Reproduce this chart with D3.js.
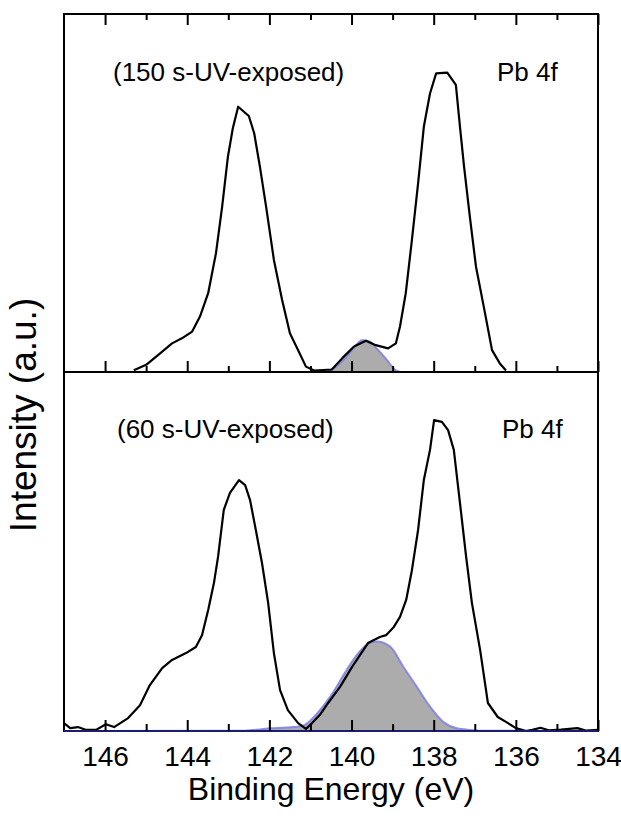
<!DOCTYPE html>
<html>
<head>
<meta charset="utf-8">
<script src="https://cdn.jsdelivr.net/npm/d3@7/dist/d3.min.js"></script>
<style>
  html, body { margin: 0; padding: 0; background: #fff; }
  svg { display: block; }
  text { font-family: Arial, "Liberation Sans", sans-serif; fill: #000; }
</style>
</head>
<body>
<svg id="chart" width="621" height="818"></svg>
<script>
// Pb 4f XPS spectra, two UV exposure times
const majorTicks = [146, 144, 142, 140, 138, 136, 134];
const minorTicks = [145, 143, 141, 139, 137, 135];

// 150 s exposure: measured envelope
const topEnergy = [145.30, 145.00, 144.66, 144.37, 144.13, 143.88, 143.69, 143.49, 143.30, 143.15,
  143.01, 142.89, 142.76, 142.50, 142.37, 142.23, 142.08, 141.89, 141.69, 141.50,
  141.30, 141.11, 140.91, 140.48, 140.23, 139.94, 139.65, 139.41, 139.11, 138.92,
  138.82, 138.68, 138.53, 138.38, 138.24, 138.09, 137.94, 137.67, 137.46, 137.36,
  137.26, 137.12, 136.97, 136.78, 136.58, 136.39, 136.24];
const topIntensity = [0.5, 2.0, 5.2, 8.0, 9.4, 11.3, 15.5, 22.0, 33.2, 46.2,
  60.1, 68.1, 74.1, 71.5, 66.7, 57.3, 46.2, 31.3, 20.1, 10.8,
  6.1, 1.5, 0.4, 0.7, 3.8, 7.1, 8.7, 7.5, 6.6, 8.0,
  12.7, 22.0, 36.9, 52.7, 68.5, 77.8, 83.4, 83.6, 80.2, 68.5,
  57.3, 43.4, 29.4, 18.2, 6.1, 2.4, 0.4];

// 150 s exposure: fitted component
const topFitEnergy = [140.57, 140.32, 140.12, 139.92, 139.75, 139.55, 139.39, 139.14, 138.94, 138.82];
const topFitIntensity = [0.1, 2.0, 4.3, 7.1, 8.9, 8.5, 6.6, 3.4, 0.6, 0.1];

// 60 s exposure: measured envelope
const bottomEnergy = [147.00, 146.85, 146.66, 146.46, 146.22, 145.98, 145.78, 145.44, 145.15, 144.91,
  144.61, 144.37, 144.03, 143.79, 143.64, 143.49, 143.35, 143.25, 143.11, 142.96,
  142.74, 142.59, 142.47, 142.33, 142.18, 142.03, 141.89, 141.74, 141.55, 141.30,
  141.11, 140.96, 140.77, 140.57, 140.28, 139.99, 139.60, 139.31, 139.16, 138.97,
  138.82, 138.67, 138.53, 138.38, 138.24, 138.09, 137.99, 137.80, 137.65, 137.51,
  137.36, 137.21, 137.07, 136.87, 136.68, 136.44, 136.19, 136.00, 135.75, 135.60,
  135.40, 135.20, 134.90, 134.50, 134.30, 134.00];
const bottomIntensity = [2.2, 0.8, 1.1, 0.3, 0.3, 1.9, 1.1, 3.6, 7.2, 12.8,
  17.5, 19.8, 21.7, 23.4, 26.7, 33.7, 41.2, 48.5, 61.6, 66.3,
  69.9, 68.5, 64.3, 56.0, 46.8, 35.7, 21.7, 11.4, 5.8, 2.2,
  0.6, 2.2, 4.5, 7.8, 12.3, 17.8, 24.5, 26.2, 26.7, 29.0,
  31.8, 36.5, 44.8, 56.0, 69.9, 78.3, 86.6, 86.1, 83.8, 78.3,
  63.5, 48.5, 35.7, 22.6, 7.8, 3.9, 2.2, 0.8, 0.0, 0.3,
  0.9, 0.2, 0.4, 0.8, 0.1, 0.3];

// 60 s exposure: fitted component
const bottomFitEnergy = [147.00, 142.60, 141.99, 141.58, 141.21, 140.77, 140.44, 140.12, 139.84, 139.63,
  139.39, 139.06, 138.74, 138.41, 138.09, 137.77, 137.44, 137.12, 136.60, 134.00];
const bottomFitIntensity = [0.0, 0.1, 0.75, 1.0, 1.4, 5.8, 10.9, 17.0, 21.6, 24.0,
  24.9, 23.5, 17.9, 12.3, 6.8, 2.6, 0.75, 0.3, 0.05, 0.0];

const panelLabels = ["(150 s-UV-exposed)", "(60 s-UV-exposed)"];
const coreLevel = "Pb 4f";
const xTitle = "Binding Energy (eV)";
const yTitle = "Intensity (a.u.)";

const zip = (xs, ys) => xs.map((e, i) => ({ e, v: ys[i] }));

const svg = d3.select("#chart");
const plotLeft = 64, plotRight = 598, plotTop = 14, plotMid = 372, plotBottom = 731;

const x = d3.scaleLinear().domain([147, 134]).range([plotLeft, plotRight]);
const yTop = d3.scaleLinear().domain([0, 100]).range([plotMid, plotTop]);
const yBot = d3.scaleLinear().domain([0, 100]).range([plotBottom, plotMid]);

const fillGrey = "#acacac";
const fitBlue = "#7c7ce8";

function drawPanel(yScale, fitData, data) {
  const area = d3.area().x(d => x(d.e)).y0(yScale(0)).y1(d => yScale(d.v)).curve(d3.curveMonotoneX);
  const fitLine = d3.line().x(d => x(d.e)).y(d => yScale(d.v)).curve(d3.curveMonotoneX);
  svg.append("path").datum(fitData).attr("d", area).attr("fill", fillGrey);
  svg.append("path").datum(fitData).attr("d", fitLine)
    .attr("fill", "none").attr("stroke", fitBlue).attr("stroke-width", 2).attr("stroke-opacity", 0.85);
  const line = d3.line().x(d => x(d.e)).y(d => yScale(d.v));
  svg.append("path").datum(data).attr("d", line)
    .attr("fill", "none").attr("stroke", "#000").attr("stroke-width", 2.2)
    .attr("stroke-linejoin", "round");
}

// panels: data first, frame and ticks on top
drawPanel(yTop, zip(topFitEnergy, topFitIntensity), zip(topEnergy, topIntensity));
drawPanel(yBot, zip(bottomFitEnergy, bottomFitIntensity), zip(bottomEnergy, bottomIntensity));

// frames
svg.append("rect").attr("x", plotLeft).attr("y", plotTop)
  .attr("width", plotRight - plotLeft).attr("height", plotBottom - plotTop)
  .attr("fill", "none").attr("stroke", "#000").attr("stroke-width", 2);
svg.append("line").attr("x1", plotLeft).attr("x2", plotRight).attr("y1", plotMid).attr("y2", plotMid)
  .attr("stroke", "#000").attr("stroke-width", 2);

// baseline of the lower fit runs over the axis
svg.append("line").attr("x1", x(147)).attr("x2", x(134)).attr("y1", yBot(0)).attr("y2", yBot(0))
  .attr("stroke", "#1c1c70").attr("stroke-width", 2);

function ticks(axisGen, y, values, size, labels) {
  const g = svg.append("g").attr("transform", `translate(0,${y})`)
    .call(axisGen(x).tickValues(values).tickSize(size).tickFormat(labels ? d3.format("d") : ""));
  g.select(".domain").remove();
  g.selectAll(".tick line").attr("stroke", "#000").attr("stroke-width", 2);
  return g;
}

// top edge (inward), divider (inward to upper panel), bottom axis
ticks(d3.axisTop, plotTop, majorTicks, -11, false);
ticks(d3.axisTop, plotTop, minorTicks, -6, false);
ticks(d3.axisBottom, plotMid, majorTicks, -11, false);
ticks(d3.axisBottom, plotMid, minorTicks, -6, false);
const gx = ticks(d3.axisBottom, plotBottom, majorTicks, -11, true);
ticks(d3.axisBottom, plotBottom, minorTicks, -7, false);
gx.selectAll(".tick text").attr("y", 35).attr("dy", null).attr("fill", "#000")
  .style("font-size", "28px").style("font-family", "Arial, 'Liberation Sans', sans-serif");

// panel annotations
svg.append("text").attr("x", 113).attr("y", 81).style("font-size", "26px").text(panelLabels[0]);
svg.append("text").attr("x", 497).attr("y", 81).style("font-size", "26px").text(coreLevel);
svg.append("text").attr("x", 117).attr("y", 438).style("font-size", "26px").text(panelLabels[1]);
svg.append("text").attr("x", 502).attr("y", 438).style("font-size", "26px").text(coreLevel);

// axis titles
svg.append("text").attr("x", 331).attr("y", 800).attr("text-anchor", "middle")
  .style("font-size", "32px").text(xTitle);
svg.append("text").attr("transform", "translate(36,415) rotate(-90)").attr("text-anchor", "middle")
  .style("font-size", "37px").text(yTitle);
</script>
</body>
</html>
